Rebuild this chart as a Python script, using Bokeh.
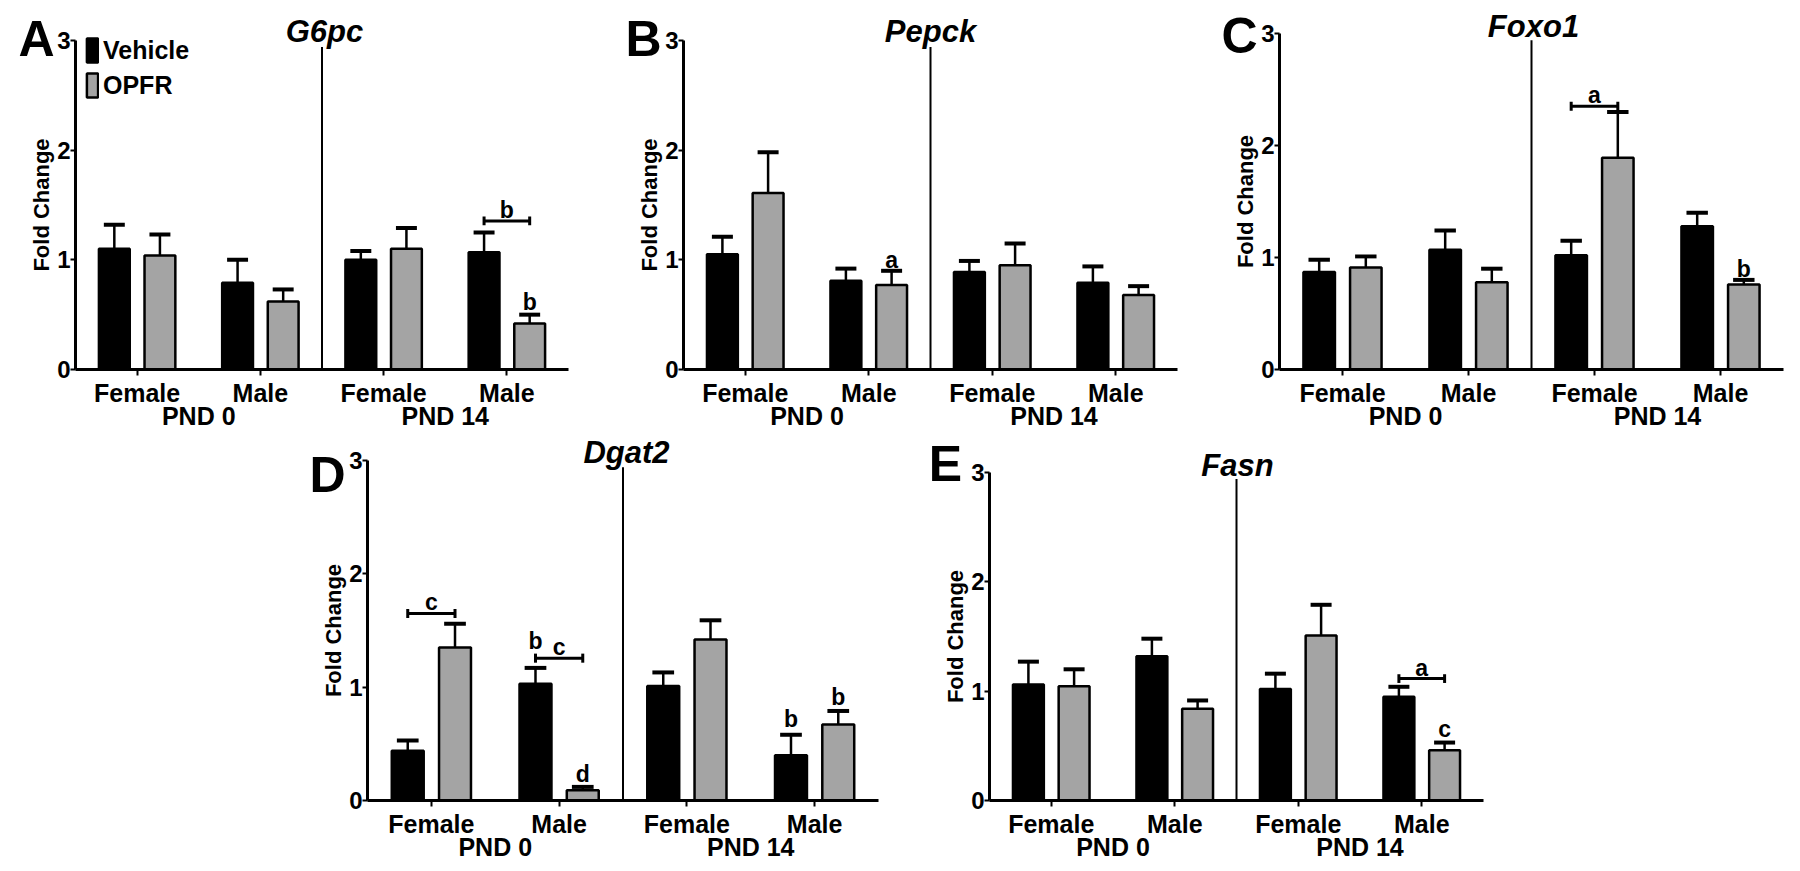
from bokeh.plotting import figure
from bokeh.models import Range1d, FixedTicker, LinearAxis, Label, Legend, LegendItem, Spacer
from bokeh.layouts import row, column
from bokeh.embed import file_html
from bokeh.resources import INLINE
from bokeh.core.properties import value

# ---------------- data ----------------
sex_labels = ["Female", "Male", "Female", "Male"]
age_labels = ["PND 0", "PND 14"]
series_names = ["Vehicle", "OPFR"]

g6pc_veh = [1.10, 0.79, 1.00, 1.07]
g6pc_veh_sem = [0.22, 0.21, 0.08, 0.18]
g6pc_opfr = [1.04, 0.62, 1.10, 0.42]
g6pc_opfr_sem = [0.19, 0.11, 0.19, 0.08]

pepck_veh = [1.05, 0.81, 0.89, 0.79]
pepck_veh_sem = [0.16, 0.11, 0.10, 0.15]
pepck_opfr = [1.61, 0.77, 0.95, 0.68]
pepck_opfr_sem = [0.37, 0.13, 0.20, 0.08]

foxo1_veh = [0.87, 1.07, 1.02, 1.28]
foxo1_veh_sem = [0.11, 0.17, 0.13, 0.12]
foxo1_opfr = [0.91, 0.78, 1.89, 0.76]
foxo1_opfr_sem = [0.10, 0.12, 0.41, 0.04]

dgat2_veh = [0.44, 1.03, 1.01, 0.40]
dgat2_veh_sem = [0.09, 0.14, 0.12, 0.18]
dgat2_opfr = [1.35, 0.09, 1.42, 0.67]
dgat2_opfr_sem = [0.21, 0.03, 0.17, 0.12]

fasn_veh = [1.06, 1.32, 1.02, 0.95]
fasn_veh_sem = [0.21, 0.16, 0.14, 0.09]
fasn_opfr = [1.045, 0.84, 1.51, 0.46]
fasn_opfr_sem = [0.155, 0.075, 0.28, 0.07]

# significance annotations: brackets (group, level, letter); letters (group, series, level, letter)
g6pc_brackets = [(3, 1.355, "b")]
g6pc_letters = [(3, 1, 0.62, "b")]
pepck_brackets = []
pepck_letters = [(1, 1, 1.00, "a")]
foxo1_brackets = [(2, 2.35, "a")]
foxo1_letters = [(3, 1, 0.90, "b")]
dgat2_brackets = [(0, 1.65, "c"), (1, 1.256, "c")]
dgat2_letters = [(1, 0, 1.41, "b"), (1, 1, 0.235, "d"), (3, 0, 0.72, "b"), (3, 1, 0.91, "b")]
fasn_brackets = [(3, 1.115, "a")]
fasn_letters = [(3, 1, 0.65, "c")]

# ---------------- style ----------------
FONT = "Liberation Sans"
GREY = "#a4a4a4"
CENTERS = [1, 3, 5, 7]
OFF = 0.37
BAR_W = 0.5
CAP = 0.17


def make_panel(name, letter, veh, veh_sem, opfr, opfr_sem, brackets, letters,
               box, axes_px, title_px, letter_px, legend=False):
    # box: figure extent in picture pixels; axes_px: x of y-axis, x of axis end, y of 3, y of 0
    fl, fr, ft, fb = box
    x0, x8, y3, y0 = axes_px
    W, H = fr - fl, fb - ft
    ppu_x = (x8 - x0) / 8.0
    ppu_y = (y0 - y3) / 3.0
    X = lambda px: (px - x0) / ppu_x
    Y = lambda py: (y0 - py) / ppu_y

    p = figure(width=W, height=H, x_range=Range1d(X(fl), X(fr)), y_range=Range1d(Y(fb), Y(ft)),
               min_border_left=0, min_border_right=0, min_border_top=0, min_border_bottom=0,
               toolbar_location=None, output_backend="svg", outline_line_color=None,
               background_fill_color="white", border_fill_color="white", title=None)
    p.grid.visible = False

    # y axis, drawn at x = 0
    ya = p.yaxis[0]
    ya.fixed_location = 0
    ya.bounds = (0, 3)
    ya.ticker = FixedTicker(ticks=[0, 1, 2, 3])
    ya.axis_line_width = 3
    ya.axis_line_color = "black"
    ya.major_tick_line_width = 2
    ya.major_tick_line_color = "black"
    ya.major_tick_in = 0
    ya.major_tick_out = 5
    ya.minor_tick_line_color = None
    ya.major_label_standoff = 0
    ya.major_label_text_font = FONT
    ya.major_label_text_font_style = "bold"
    ya.major_label_text_font_size = "24px"
    ya.major_label_text_color = "black"
    ya.axis_label = "Fold Change"
    ya.axis_label_text_font = FONT
    ya.axis_label_text_font_style = "bold"
    ya.axis_label_text_font_size = "22px"
    ya.axis_label_text_color = "black"
    ya.axis_label_standoff = 0

    # x axis (sex), drawn at y = 0
    xa = p.xaxis[0]
    xa.fixed_location = 0
    xa.bounds = (0, 8)
    xa.ticker = FixedTicker(ticks=CENTERS)
    xa.major_label_overrides = {c: s for c, s in zip(CENTERS, sex_labels)}
    xa.axis_line_width = 3
    xa.axis_line_color = "black"
    xa.major_tick_line_width = 2
    xa.major_tick_line_color = "black"
    xa.major_tick_in = 0
    xa.major_tick_out = 6
    xa.minor_tick_line_color = None
    xa.major_label_standoff = 3
    xa.major_label_text_font = FONT
    xa.major_label_text_font_style = "bold"
    xa.major_label_text_font_size = "25px"
    xa.major_label_text_color = "black"

    # second x axis (age), also at y = 0, labels further down
    xa2 = LinearAxis(ticker=FixedTicker(ticks=[2, 6]), bounds=(0, 8), fixed_location=0,
                     major_label_overrides={2: age_labels[0], 6: age_labels[1]},
                     axis_line_color=None, major_tick_line_color=None,
                     minor_tick_line_color=None, major_tick_in=0, major_tick_out=0,
                     major_label_standoff=32,
                     major_label_text_font=FONT, major_label_text_font_style="bold",
                     major_label_text_font_size="25px", major_label_text_color="black")
    p.add_layout(xa2, "below")

    vx = [c - OFF for c in CENTERS]
    ox = [c + OFF for c in CENTERS]
    vtop = [m + s for m, s in zip(veh, veh_sem)]
    otop = [m + s for m, s in zip(opfr, opfr_sem)]

    # divider between ages
    p.segment(x0=[4], y0=[0], x1=[4], y1=[2.94], line_color="black", line_width=2)

    # error bars
    for xs, ms, ts in ((vx, veh, vtop), (ox, opfr, otop)):
        p.segment(x0=xs, y0=ms, x1=xs, y1=ts, line_color="black", line_width=2.5)
        p.segment(x0=[x - CAP for x in xs], y0=ts, x1=[x + CAP for x in xs], y1=ts,
                  line_color="black", line_width=4)

    r_veh = p.vbar(x=vx, top=veh, bottom=0, width=BAR_W, fill_color="black",
                   line_color="black", line_width=2.5)
    r_opfr = p.vbar(x=ox, top=opfr, bottom=0, width=BAR_W, fill_color=GREY,
                    line_color="black", line_width=2.5)

    # brackets
    for g, lvl, t in brackets:
        xa_, xb_ = CENTERS[g] - OFF, CENTERS[g] + OFF
        p.segment(x0=[xa_], y0=[lvl], x1=[xb_], y1=[lvl], line_color="black", line_width=3)
        p.segment(x0=[xa_, xb_], y0=[lvl - 0.04, lvl - 0.04], x1=[xa_, xb_],
                  y1=[lvl + 0.04, lvl + 0.04], line_color="black", line_width=3)
        p.text(x=[CENTERS[g]], y=[lvl + 0.1], text=[t], text_font=value(FONT),
               text_font_style="bold", text_font_size="23px", text_align="center",
               text_baseline="middle", text_color="black")
    for g, s, lvl, t in letters:
        x = CENTERS[g] + (-OFF if s == 0 else OFF)
        p.text(x=[x], y=[lvl], text=[t], text_font=value(FONT),
               text_font_style="bold", text_font_size="23px", text_align="center",
               text_baseline="middle", text_color="black")

    # gene title (centred over divider)
    p.add_layout(Label(x=X(title_px[0]), y=Y(title_px[1]), text=name, text_font=FONT,
                       text_font_style="bold italic", text_font_size="31px",
                       text_align="center", text_baseline="middle", text_color="black"))
    # panel letter
    p.add_layout(Label(x=X(letter_px[0]), y=Y(letter_px[1]), text=letter, text_font=FONT,
                       text_font_style="bold", text_font_size="50px", text_align="center",
                       text_baseline="middle", text_color="black"))

    if legend:
        lg = Legend(items=[LegendItem(label=series_names[0], renderers=[r_veh]),
                           LegendItem(label=series_names[1], renderers=[r_opfr])],
                    location=(85 - fl, fb - 100), orientation="vertical",
                    glyph_width=14, glyph_height=30, label_height=30, label_standoff=4,
                    spacing=5, padding=0, margin=0, border_line_color=None,
                    background_fill_alpha=0, label_text_font=FONT,
                    label_text_font_style="bold", label_text_font_size="25px",
                    label_text_color="black")
        p.add_layout(lg)
    return p


# boxes in picture pixels (left, right, top, bottom); axes (x at 0, x at end, y at 3, y at 0)
pA = make_panel("G6pc", "A", g6pc_veh, g6pc_veh_sem, g6pc_opfr, g6pc_opfr_sem,
                g6pc_brackets, g6pc_letters,
                (0, 620, 0, 432), (75, 568, 40, 369), (324, 31), (36, 38), legend=True)
pB = make_panel("Pepck", "B", pepck_veh, pepck_veh_sem, pepck_opfr, pepck_opfr_sem,
                pepck_brackets, pepck_letters,
                (620, 1215, 0, 432), (683, 1177, 40, 369), (930, 31), (643, 38))
pC = make_panel("Foxo1", "C", foxo1_veh, foxo1_veh_sem, foxo1_opfr, foxo1_opfr_sem,
                foxo1_brackets, foxo1_letters,
                (1215, 1784, 0, 432), (1279, 1783, 33, 369), (1533, 26), (1239, 35))
pD = make_panel("Dgat2", "D", dgat2_veh, dgat2_veh_sem, dgat2_opfr, dgat2_opfr_sem,
                dgat2_brackets, dgat2_letters,
                (300, 920, 432, 863), (367, 878, 460, 800), (626, 452), (327, 474))
pE = make_panel("Fasn", "E", fasn_veh, fasn_veh_sem, fasn_opfr, fasn_opfr_sem,
                fasn_brackets, fasn_letters,
                (920, 1500, 432, 863), (989, 1483, 472, 800), (1237, 465), (945, 463))

layout = column(row(pA, pB, pC, spacing=0),
                row(Spacer(width=300, height=431), pD, pE, spacing=0),
                spacing=0)

open("out.html", "w").write(file_html(layout, INLINE))
